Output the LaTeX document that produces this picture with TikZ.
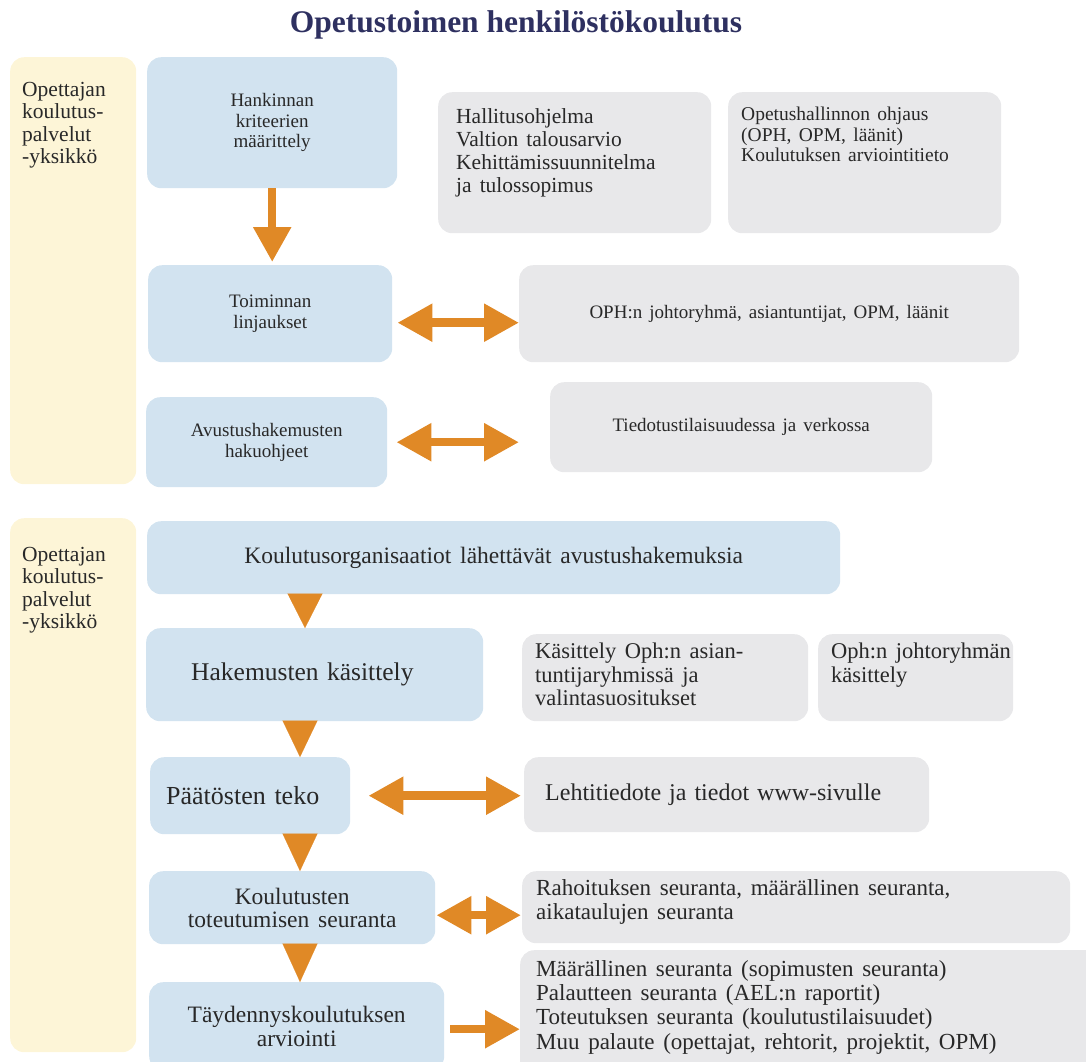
\documentclass[tikz,border=0pt]{standalone}
\usepackage{fontspec}
\setmainfont{Liberation Serif}[WordSpace=1.5]
\newfontfamily\titlefont{Liberation Serif}
\usetikzlibrary{arrows.meta}

\definecolor{unitbg}{RGB}{253,245,215}
\definecolor{stepbg}{RGB}{210,227,240}
\definecolor{infobg}{RGB}{232,232,234}
\definecolor{arrowc}{RGB}{224,137,38}
\definecolor{titlec}{RGB}{46,48,96}
\definecolor{textc}{RGB}{40,40,40}

% text block pinned to the top left corner of its box
\newcommand{\toptext}[5]{\parbox[c][#2][t]{#1}{\vspace*{#4}\raggedright\leftskip=#3\relax #5}}

\tikzset{
  box/.style={rounded corners=14pt, inner sep=0pt, anchor=north west, text=textc},
  unitbox/.style={box, fill=unitbg, font=\fontsize{21.5}{22.5}\selectfont},
  stepbox/.style={box, fill=stepbg, align=center},
  infobox/.style={box, fill=infobg},
  twoway/.style={draw=arrowc, line width=8.5pt, {Triangle[width=36pt,length=35pt]}-{Triangle[width=36pt,length=35pt]}},
  oneway/.style={draw=arrowc, line width=8.5pt, -{Triangle[width=36pt,length=35pt]}},
  drop/.style={draw=arrowc, line width=0.1pt, -{Triangle[width=35pt,length=#1]}},
}

\begin{document}
\begin{tikzpicture}[x=1pt, y=-1pt]
  \useasboundingbox (0,0) rectangle (1086,1061);
  \clip (0,0) rectangle (1086,1061);

  \node[font=\titlefont\fontsize{31.5}{36}\selectfont\bfseries, text=titlec] (title) at (516,25) {Opetustoimen henkilöstökoulutus};

  % upper part
  \node[unitbox] (unit1) at (10,57) {\toptext{126pt}{427pt}{12pt}{25pt}{Opettajan\\koulutus-\\palvelut\\-yksikkö}};
  \node[stepbox, minimum width=250pt, minimum height=131pt, font=\fontsize{19}{20.5}\selectfont] (hank) at (147,57) {Hankinnan\\kriteerien\\määrittely};
  \node[stepbox, minimum width=244pt, minimum height=97pt, font=\fontsize{19}{21}\selectfont] (linj) at (148,265) {Toiminnan\\linjaukset};
  \node[stepbox, minimum width=241pt, minimum height=90pt, font=\fontsize{19}{20.5}\selectfont] (hako) at (146,397) {Avustushakemusten\\hakuohjeet};

  \node[infobox, font=\fontsize{21.5}{23}\selectfont] (ohjel) at (438,92) {\toptext{273pt}{141pt}{18pt}{16pt}{Hallitusohjelma\\Valtion talousarvio\\Kehittämissuunnitelma\\ja tulossopimus}};
  \node[infobox, font=\fontsize{19.5}{20.5}\selectfont] (ohjaus) at (728,92) {\toptext{273pt}{141pt}{13pt}{15pt}{Opetushallinnon ohjaus\\(OPH, OPM, läänit)\\Koulutuksen arviointitieto}};
  \node[infobox, minimum width=500pt, minimum height=97pt, font=\fontsize{19}{21}\selectfont] (johto) at (519,265) {OPH:n johtoryhmä, asiantuntijat, OPM, läänit};
  \node[infobox, minimum width=382pt, minimum height=90pt, font=\fontsize{19}{21}\selectfont] (tied) at (550,382) {Tiedotustilaisuudessa ja verkossa};

  \draw[oneway, shorten >=3pt] (hank.south) -- (hank.south |- linj.north);
  \coordinate (linjout) at ([yshift=-9pt]linj.east);
  \draw[twoway, shorten <=5pt] (linjout) -- (linjout -| johto.west);
  \draw[twoway, shorten <=9pt, shorten >=31pt] (hako.east) -- (hako.east -| tied.west);

  % lower part
  \node[unitbox] (unit2) at (10,518) {\toptext{126pt}{534pt}{12pt}{29pt}{Opettajan\\koulutus-\\palvelut\\-yksikkö}};
  \node[stepbox, minimum width=693pt, minimum height=73pt, font=\fontsize{23.5}{25}\selectfont] (koul) at (147,521) {Koulutusorganisaatiot lähettävät avustushakemuksia};
  \node[stepbox, minimum height=93pt, inner xsep=45pt, text width=247pt, align=left, font=\fontsize{25.5}{27}\selectfont] (hake) at (146,628) {Hakemusten käsittely};
  \node[stepbox, minimum height=77pt, inner xsep=16pt, text width=168pt, align=left, font=\fontsize{26}{27}\selectfont] (paat) at (150,757) {Päätösten teko};
  \node[stepbox, minimum width=286pt, minimum height=73pt, font=\fontsize{23.5}{23.5}\selectfont] (tote) at (149,871) {Koulutusten\\toteutumisen seuranta};
  \node[stepbox, minimum width=295pt, minimum height=88pt, font=\fontsize{23.5}{24}\selectfont] (arvi) at (149,982) {Täydennyskoulutuksen\\arviointi};

  \node[infobox, font=\fontsize{22.5}{23.5}\selectfont] (kasi) at (522,634) {\toptext{286pt}{87pt}{13pt}{9pt}{Käsittely Oph:n asian-\\tuntijaryhmissä ja\\valintasuositukset}};
  \node[infobox, font=\fontsize{22.5}{23.5}\selectfont] (johk) at (818,634) {\toptext{195pt}{87pt}{13pt}{9pt}{Oph:n johtoryhmän\\käsittely}};
  \node[infobox, minimum height=75pt, inner xsep=21pt, text width=363pt, align=left, font=\fontsize{24}{25}\selectfont] (leht) at (524,757) {Lehtitiedote ja tiedot www-sivulle};
  \node[infobox, font=\fontsize{23}{24}\selectfont] (rah) at (522,871) {\toptext{548pt}{72pt}{14pt}{8pt}{Rahoituksen seuranta, määrällinen seuranta,\\aikataulujen seuranta}};
  \node[infobox, font=\fontsize{23}{24.3}\selectfont] (maar) at (520,950) {\toptext{600pt}{130pt}{16pt}{10pt}{Määrällinen seuranta (sopimusten seuranta)\\Palautteen seuranta (AEL:n raportit)\\Toteutuksen seuranta (koulutustilaisuudet)\\Muu palaute (opettajat, rehtorit, projektit, OPM)}};

  \foreach \from/\to/\x/\len in {koul/hake/305/34.5, hake/paat/300/36.5, paat/tote/300/37.5, tote/arvi/300/38.5}
    \draw[drop=\len pt] (\from.south -| \x,0) -- (\to.north -| \x,0);

  \draw[twoway, shorten <=18pt, shorten >=3pt] (paat.east) -- (paat.east -| leht.west);
  \coordinate (toteout) at ([yshift=-7.5pt]tote.east);
  \draw[twoway, shorten <=1pt, shorten >=1pt] (toteout) -- (toteout -| rah.west);
  \coordinate (arviout) at ([yshift=-3pt]arvi.east);
  \draw[oneway, shorten <=6pt] (arviout) -- (arviout -| maar.west);
\end{tikzpicture}
\end{document}
